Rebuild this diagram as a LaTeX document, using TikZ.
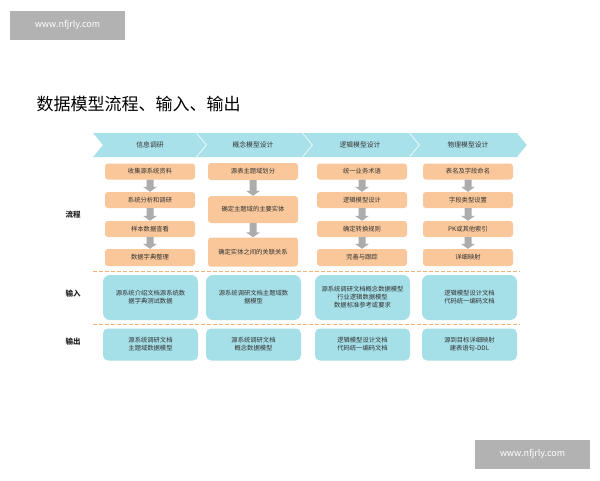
\documentclass[tikz,border=0pt]{standalone}
\usepackage{fontspec}
\setmainfont{Noto Sans CJK SC}
\usetikzlibrary{calc}
\definecolor{hdr}{HTML}{A9E1EA}
\definecolor{org}{HTML}{F9C79A}
\definecolor{blu}{HTML}{A5DFE8}
\definecolor{dsh}{HTML}{F2B27A}
\begin{document}
\begin{tikzpicture}[x=1pt,y=-1pt,
  pb/.style={fill=org,rounded corners=3pt,minimum width=90pt,font=\fontsize{6.3}{8}\selectfont,text=black!80,inner sep=1pt,align=center},
  ib/.style={fill=blu,rounded corners=7pt,minimum width=95pt,font=\fontsize{6.3}{8}\selectfont,text=black!80,inner sep=1pt,align=center},
  dl/.style={dsh,dashed,line width=0.8pt,dash pattern=on 4pt off 2pt},
  lab/.style={font=\fontsize{7.5}{9}\selectfont\bfseries,text=black!85},
  wm/.style={fill=gray!60,text=white,font=\fontsize{9}{10}\selectfont,minimum width=115pt,minimum height=29pt}]
\useasboundingbox (0,0) rectangle (600,480);
\fill[white] (0,0) rectangle (600,480);
\node[wm] (wm1) at (67.5,25) {www.nfjrly.com};
\node[wm] (wm2) at (532.5,454) {www.nfjrly.com};
\node[anchor=west,font=\fontsize{17}{20}\selectfont] (title) at (33,104) {数据模型流程、输入、输出};
% chevrons
\foreach \a/\b in {93/197,197/303,303/410,410/518}{
  \fill[hdr] (\a,133) -- (\b,133) -- (\b+10,145) -- (\b,157) -- (\a,157) -- (\a+10,145) -- cycle;
  \draw[white,line width=1.5pt] (\b,133) -- (\b+10,145) -- (\b,157);
}
\foreach \t/\x in {信息调研/150,概念模型设计/253,逻辑模型设计/360,物理模型设计/468}
  \node[font=\fontsize{6.8}{8}\selectfont,text=black!80] (h\x) at (\x,145) {\t};
% row labels
\node[lab] (l1) at (73,215) {流程};
\node[lab] (l2) at (73,294) {输入};
\node[lab] (l3) at (73,342) {输出};
% column 1
\node[pb,minimum height=16pt] (a1) at (150,171.5) {收集源系统资料};
\node[pb,minimum height=16pt] (a2) at (150,200) {系统分析和调研};
\node[pb,minimum height=16pt] (a3) at (150,229) {样本数据查看};
\node[pb,minimum height=17pt] (a4) at (150,257.5) {数据字典整理};
% column 2
\node[pb,minimum height=17pt] (b1) at (253,171.5) {源表主题域划分};
\node[pb,minimum height=27pt] (b2) at (253,209.5) {确定主题域的主要实体};
\node[pb,minimum height=29pt] (b3) at (253,252) {确定实体之间的关联关系};
% column 3
\node[pb,minimum height=16pt] (c1) at (362,171.5) {统一业务术语};
\node[pb,minimum height=16pt] (c2) at (362,200) {逻辑模型设计};
\node[pb,minimum height=16pt] (c3) at (362,229) {确定转换规则};
\node[pb,minimum height=17pt] (c4) at (362,257.5) {完善与跟踪};
% column 4
\node[pb,minimum height=16pt] (d1) at (468,171.5) {表名及字段命名};
\node[pb,minimum height=16pt] (d2) at (468,200) {字段类型设置};
\node[pb,minimum height=16pt] (d3) at (468,229) {PK或其他索引};
\node[pb,minimum height=17pt] (d4) at (468,257.5) {详细映射};
% arrows
\foreach \u/\v in {a1/a2,a2/a3,a3/a4,b1/b2,b2/b3,c1/c2,c2/c3,c3/c4,d1/d2,d2/d3,d3/d4}{
  \fill[gray!65] ($(\u.south)+(-3.5,0)$) -- ($(\u.south)+(3.5,0)$) -- ($(\v.north)+(3.5,-5)$)
    -- ($(\v.north)+(7,-5)$) -- (\v.north) -- ($(\v.north)+(-7,-5)$) -- ($(\v.north)+(-3.5,-5)$) -- cycle;
}
% dashed separators
\draw[dl] (93,271) coordinate (s1) -- (520,271) coordinate (s2);
\draw[dl] (93,324.5) coordinate (s3) -- (520,324.5) coordinate (s4);
% inputs
\node[ib,minimum height=45pt] (i1) at (150.5,297.5) {源系统介绍文档源系统数\\据字典测试数据};
\node[ib,minimum height=45pt] (i2) at (253.5,297.5) {源系统调研文档主题域数\\据模型};
\node[ib,minimum height=45pt] (i3) at (362.5,297.5) {源系统调研文档概念数据模型\\行业逻辑数据模型\\数据标准参考或要求};
\node[ib,minimum height=45pt] (i4) at (469.5,297.5) {逻辑模型设计文档\\代码统一编码文档};
% outputs
\node[ib,minimum height=32pt,rounded corners=5pt] (o1) at (150.5,344.5) {源系统调研文档\\主题域数据模型};
\node[ib,minimum height=32pt,rounded corners=5pt] (o2) at (253.5,344.5) {源系统调研文档\\概念数据模型};
\node[ib,minimum height=32pt,rounded corners=5pt] (o3) at (362.5,344.5) {逻辑模型设计文档\\代码统一编码文档};
\node[ib,minimum height=32pt,rounded corners=5pt] (o4) at (469.5,344.5) {源到目标详细映射\\建表语句-DDL};
\end{tikzpicture}
\end{document}
